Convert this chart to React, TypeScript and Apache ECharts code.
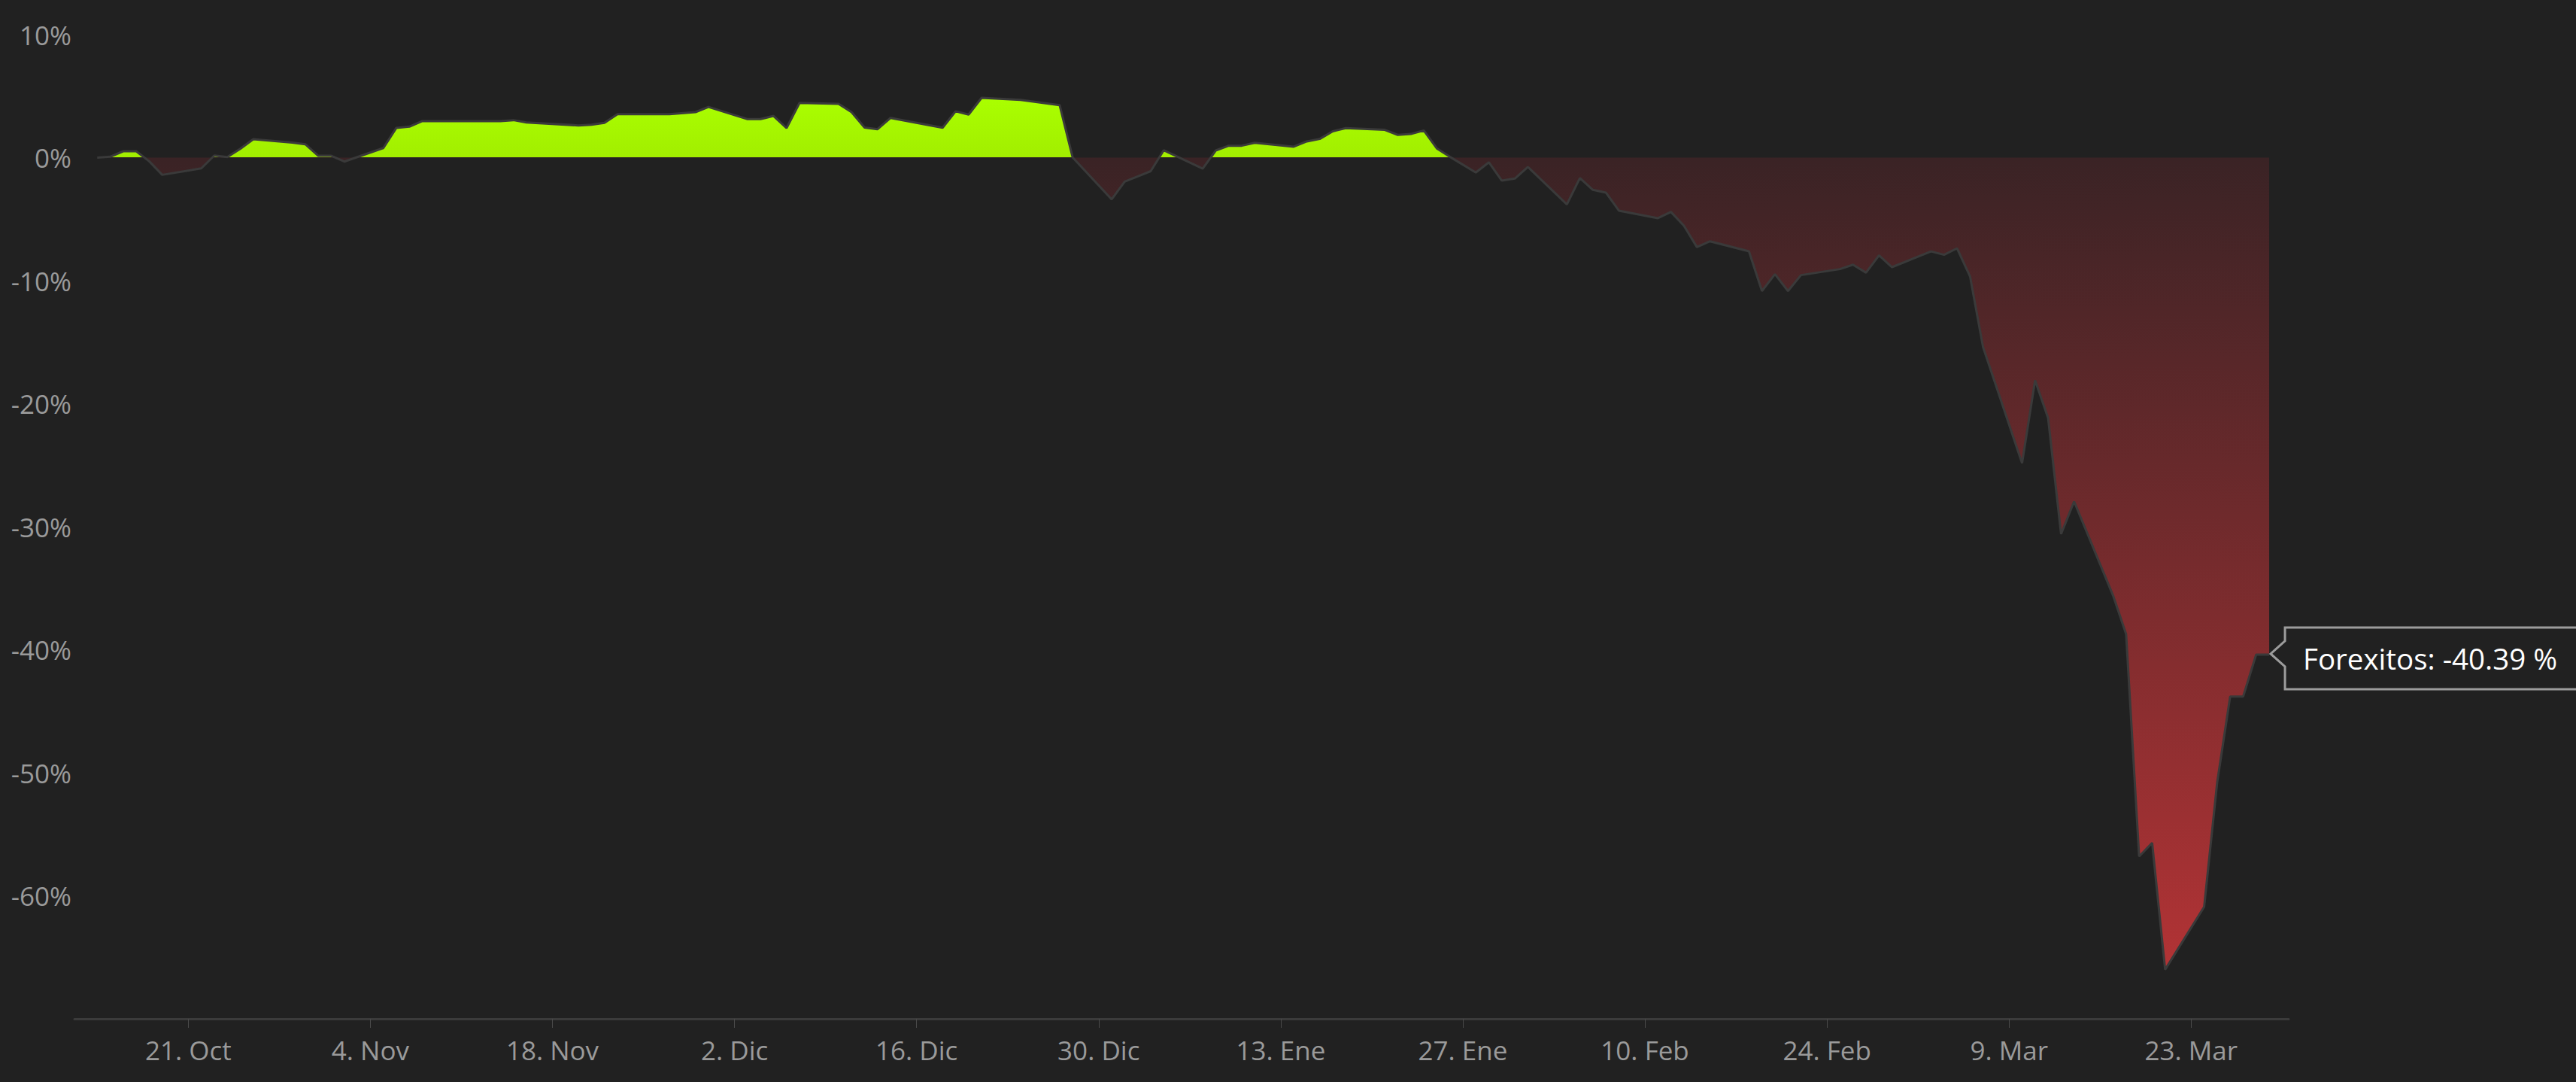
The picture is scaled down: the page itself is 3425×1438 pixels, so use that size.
import React, { useEffect, useRef } from "react";
import * as echarts from "echarts";

// ---- data ----
const seriesName = "Forexitos";

const dates: string[] = [
  "2019-10-14", "2019-10-15", "2019-10-16", "2019-10-17", "2019-10-18", "2019-10-19",
  "2019-10-22", "2019-10-23", "2019-10-24", "2019-10-25", "2019-10-26",
  "2019-10-29", "2019-10-30", "2019-10-31", "2019-11-01", "2019-11-02",
  "2019-11-05", "2019-11-06", "2019-11-07", "2019-11-08",
  "2019-11-14", "2019-11-15", "2019-11-16",
  "2019-11-20", "2019-11-21", "2019-11-22", "2019-11-23",
  "2019-11-27", "2019-11-29", "2019-11-30",
  "2019-12-03", "2019-12-04", "2019-12-05", "2019-12-06", "2019-12-07",
  "2019-12-10", "2019-12-11", "2019-12-12", "2019-12-13", "2019-12-14",
  "2019-12-18", "2019-12-19", "2019-12-20", "2019-12-21",
  "2019-12-24", "2019-12-27", "2019-12-28", "2019-12-31",
  "2020-01-01", "2020-01-03", "2020-01-04", "2020-01-07", "2020-01-08",
  "2020-01-09", "2020-01-10", "2020-01-11",
  "2020-01-14", "2020-01-15", "2020-01-16", "2020-01-17", "2020-01-18",
  "2020-01-21", "2020-01-22", "2020-01-23", "2020-01-24", "2020-01-25", "2020-01-26",
  "2020-01-28", "2020-01-29", "2020-01-30", "2020-01-31", "2020-02-01",
  "2020-02-04", "2020-02-05", "2020-02-06", "2020-02-07", "2020-02-08",
  "2020-02-11", "2020-02-12", "2020-02-13", "2020-02-14", "2020-02-15",
  "2020-02-18", "2020-02-19", "2020-02-20", "2020-02-21", "2020-02-22",
  "2020-02-25", "2020-02-26", "2020-02-27", "2020-02-28", "2020-02-29",
  "2020-03-03", "2020-03-04", "2020-03-05", "2020-03-06", "2020-03-07",
  "2020-03-10", "2020-03-11", "2020-03-12", "2020-03-13", "2020-03-14",
  "2020-03-17", "2020-03-18", "2020-03-19", "2020-03-20", "2020-03-21",
  "2020-03-24", "2020-03-25", "2020-03-26", "2020-03-27", "2020-03-28", "2020-03-29",
];

const values: number[] = [
  0, 0.07, 0.52, 0.52, -0.3, -1.4,
  -0.87, 0.17, 0.05, 0.72, 1.5,
  1.23, 1.09, 0.15, 0.15, -0.32,
  0.78, 2.42, 2.52, 2.97,
  2.97, 3.05, 2.86,
  2.62, 2.68, 2.83, 3.53,
  3.53, 3.7, 4.12,
  3.13, 3.13, 3.39, 2.4, 4.45,
  4.38, 3.7, 2.45, 2.31, 3.23,
  2.43, 3.77, 3.5, 4.86,
  4.7, 4.27, 0.02, -3.39,
  -1.95, -1.1, 0.6, -0.9, 0.58,
  0.97, 0.97, 1.21,
  0.89, 1.32, 1.52, 2.14, 2.4,
  2.26, 1.85, 1.92, 2.21, 0.75, 0.07,
  -1.21, -0.38, -1.87, -1.7, -0.75,
  -3.8, -1.66, -2.62, -2.84, -4.31,
  -4.92, -4.41, -5.54, -7.27, -6.8,
  -7.61, -10.84, -9.47, -10.84, -9.55,
  -9.06, -8.7, -9.35, -7.94, -8.9,
  -7.62, -7.9, -7.37, -9.65, -15.4,
  -24.84, -18.1, -21.16, -30.6, -27.95,
  -35.6, -38.73, -56.8, -55.7, -66.0,
  -60.9, -50.8, -43.8, -43.8, -40.39, -40.39,
];

const tickDates: string[] = [
  "2019-10-21", "2019-11-04", "2019-11-18", "2019-12-02", "2019-12-16", "2019-12-30",
  "2020-01-13", "2020-01-27", "2020-02-10", "2020-02-24", "2020-03-09", "2020-03-23",
];
const tickLabels: string[] = [
  "21. Oct", "4. Nov", "18. Nov", "2. Dic", "16. Dic", "30. Dic",
  "13. Ene", "27. Ene", "10. Feb", "24. Feb", "9. Mar", "23. Mar",
];

const yMin = -70;
const yMax = 10;
const yStep = 10;

// ---- helpers ----
const BASE = Date.UTC(2019, 9, 21);
function dayOffset(d: string): number {
  const [y, m, dd] = d.split("-").map(Number);
  return Math.round((Date.UTC(y, m - 1, dd) - BASE) / 86400000);
}

const X_MIN = -8.75;
const X_MAX = 161.5;
const FONT = "'Open Sans', 'Noto Sans', sans-serif";

export default function App() {
  const ref = useRef<HTMLDivElement>(null);

  useEffect(() => {
    if (!ref.current) return;
    const chart = echarts.init(ref.current, undefined, { renderer: "svg" });
    const data = dates.map((d, i) => [dayOffset(d), values[i]]);
    const tickDays = tickDates.map(dayOffset);

    const option: any = {
      animation: false,
      backgroundColor: "#212121",
      textStyle: { fontFamily: FONT },
      grid: { left: 99, right: 382, top: 46, bottom: 84, containLabel: false },
      xAxis: {
        type: "value",
        min: X_MIN,
        max: X_MAX,
        splitLine: { show: false },
        axisLine: { show: true, onZero: false, lineStyle: { color: "#3b3b3b", width: 3 } },
        axisTick: {
          show: true,
          customValues: tickDays,
          length: 12,
          lineStyle: { color: "#4a4a4a", width: 1 },
        },
        axisLabel: {
          customValues: tickDays,
          formatter: (v: number) => {
            const i = tickDays.indexOf(Math.round(v));
            return i >= 0 ? tickLabels[i] : "";
          },
          color: "#9a9a9a",
          fontSize: 35,
          fontFamily: FONT,
          margin: 24,
        },
      },
      yAxis: {
        type: "value",
        min: yMin,
        max: yMax,
        interval: yStep,
        splitLine: { show: false },
        axisLine: { show: false },
        axisTick: { show: false },
        axisLabel: {
          formatter: "{value}%",
          showMinLabel: false,
          color: "#9a9a9a",
          fontSize: 35,
          fontFamily: FONT,
          margin: 4,
        },
      },
      series: [
        {
          type: "line",
          name: seriesName,
          data,
          showSymbol: false,
          silent: true,
          lineStyle: { color: "#3a3a3a", width: 3 },
          areaStyle: { color: "#a6f500", opacity: 1 },
        },
      ],
    };
    chart.setOption(option);

    // build sign-split fill using pixel positions from the axes
    const maxV = Math.max(...values);
    const minV = Math.min(...values);
    const yTop = chart.convertToPixel({ gridIndex: 0 }, [0, maxV])[1];
    const yZero = chart.convertToPixel({ gridIndex: 0 }, [0, 0])[1];
    const yBot = chart.convertToPixel({ gridIndex: 0 }, [0, minV])[1];
    const z = (yZero - 0.6 - yTop) / (yBot - yTop);
    const grad = new echarts.graphic.LinearGradient(
      0, yTop, 0, yBot,
      [
        { offset: 0, color: "#aaff00" },
        { offset: z, color: "#a2ee00" },
        { offset: z, color: "#3a2325" },
        { offset: 1, color: "#b23335" },
      ],
      true
    );

    const last = data[data.length - 1];
    const [lx, ly] = chart.convertToPixel({ gridIndex: 0 }, last);
    const tx = lx + 2;
    const ty = ly - 1;
    const right = 3440;
    const label = `${seriesName}: ${values[values.length - 1].toFixed(2)} %`;

    chart.setOption({
      series: [{ areaStyle: { color: grad, opacity: 1 } }],
      graphic: [
        {
          type: "polygon",
          z: 100,
          shape: {
            points: [
              [tx, ty],
              [tx + 19, ty - 17],
              [tx + 19, ty - 35],
              [right, ty - 35],
              [right, ty + 47],
              [tx + 19, ty + 47],
              [tx + 19, ty + 17],
            ],
          },
          style: { fill: "#212121", stroke: "#9c9c9c", lineWidth: 3 },
        },
        {
          type: "text",
          z: 101,
          x: tx + 43,
          y: ty + 6,
          style: {
            text: label,
            fill: "#ffffff",
            fontSize: 38.5,
            fontFamily: FONT,
            verticalAlign: "middle",
            align: "left",
          },
        },
      ],
    });

    return () => chart.dispose();
  }, []);

  return (
    <div
      ref={ref}
      style={{ position: "fixed", left: 0, top: 0, width: 3425, height: 1438 }}
    />
  );
}
